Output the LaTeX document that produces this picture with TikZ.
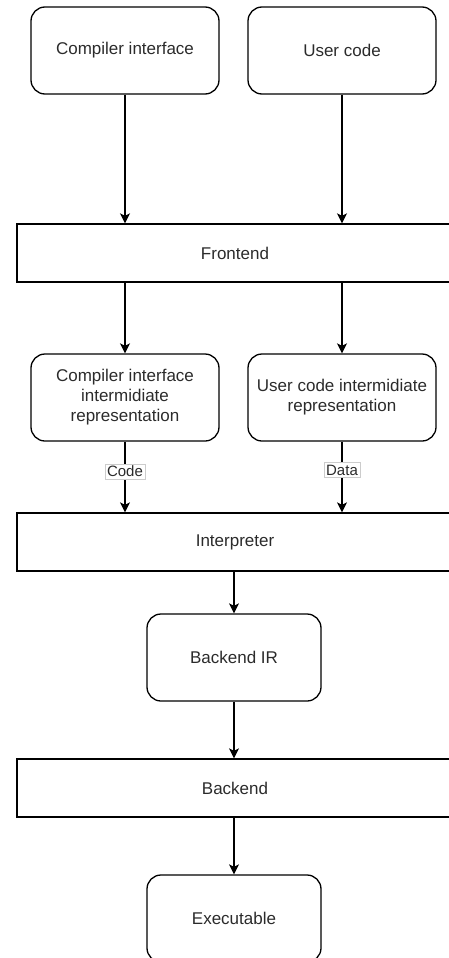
\documentclass[tikz,border=0pt]{standalone}
\usepackage{fontspec}
\setmainfont{Liberation Sans}
\usetikzlibrary{arrows.meta}
\definecolor{txt}{HTML}{2B2B2B}
\definecolor{lblborder}{HTML}{CCCCCC}
\begin{document}
\begin{tikzpicture}[x=1pt,y=-1pt,
  every node/.style={font=\fontsize{17}{20}\selectfont, text=txt},
  rbox/.style={draw, line width=1.3pt, rounded corners=14pt, align=center, minimum width=188pt, minimum height=87pt, inner sep=0pt},
  wbox/.style={draw, line width=1.3pt, minimum width=436pt, minimum height=58pt, inner sep=0pt},
  arr/.style={line width=1.3pt, -{Stealth[length=10pt,width=10pt,inset=2.5pt]}},
  lbl/.style={fill=white, draw=lblborder, line width=0.6pt, inner sep=2pt, font=\fontsize{15}{17}\selectfont}]
\useasboundingbox (0,0) rectangle (448,958);
\node[rbox] (ci) at (125,50.5) {Compiler interface};
\node[rbox] (uc) at (342,50.5) {User code};
\node[wbox] (fe) at (235,253) {Frontend};
\node[rbox] (ciir) at (125,397.5) {Compiler interface\\intermidiate\\representation};
\node[rbox] (ucir) at (342,397.5) {User code intermidiate\\representation};
\node[wbox] (int) at (235,542) {Interpreter};
\node[rbox, minimum width=174pt] (bir) at (234,657.5) {Backend IR};
\node[wbox] (be) at (235,788) {Backend};
\node[rbox, minimum width=174pt] (ex) at (234,918.5) {Executable};

\draw[arr] (ci.south) -- (ci.south |- fe.north);
\draw[arr] (uc.south) -- (uc.south |- fe.north);
\draw[arr] (ciir.north |- fe.south) -- (ciir.north);
\draw[arr] (ucir.north |- fe.south) -- (ucir.north);
\draw[arr] (ciir.south) -- node[lbl, pos=0.42] {Code} (ciir.south |- int.north);
\draw[arr] (ucir.south) -- node[lbl, pos=0.4] {Data} (ucir.south |- int.north);
\draw[arr] (bir.north |- int.south) -- (bir.north);
\draw[arr] (bir.south) -- (bir.south |- be.north);
\draw[arr] (ex.north |- be.south) -- (ex.north);
\end{tikzpicture}
\end{document}
